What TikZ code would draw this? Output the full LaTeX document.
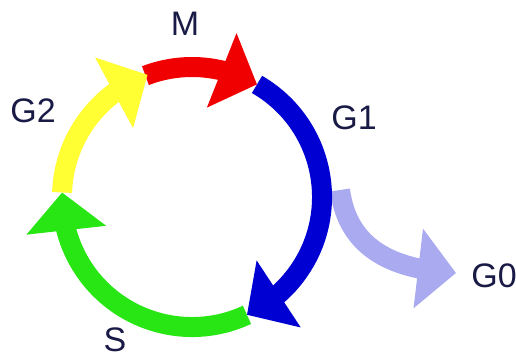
\documentclass[tikz,border=0pt]{standalone}
\usepackage{fontspec}
\setmainfont{Liberation Sans}
\usetikzlibrary{arrows.meta,bending}

\definecolor{phaseM}{RGB}{240,0,0}
\definecolor{phaseGone}{RGB}{0,0,210}
\definecolor{phaseS}{RGB}{40,230,20}
\definecolor{phaseGtwo}{RGB}{255,255,51}
\definecolor{phaseGzero}{RGB}{170,170,240}
\definecolor{labelnavy}{RGB}{26,26,70}

\begin{document}
\begin{tikzpicture}[x=1pt,y=1pt,
  phase/.style={line width=20pt, -{Triangle[length=38pt,width=78pt,flex]}},
  lbl/.style={text=labelnavy, font=\fontsize{34}{38}\selectfont, inner sep=0pt}]
\useasboundingbox (0,0) rectangle (516,360);

\coordinate (c) at (192,163);
\coordinate (q0) at (340,170);
\coordinate (q1) at (456,87);

\draw[phase, phaseGzero] (q0) .. controls (348,110) and (395,90) .. (q1);

\draw[phase, phaseM] (c) ++(111:130) arc[start angle=111, end angle=60, radius=130];
\draw[phase, phaseGone] (c) ++(60:130) arc[start angle=60, end angle=-65, radius=130];
\draw[phase, phaseS] (c) ++(-65:130) arc[start angle=-65, end angle=-182, radius=130];
\draw[phase, phaseGtwo] (c) ++(178:130) arc[start angle=178, end angle=110, radius=130];

\node[lbl] (m) at (185,336) {M};
\node[lbl] (g1) at (354,242) {G1};
\node[lbl] (g2) at (33,249) {G2};
\node[lbl] (s) at (115,20) {S};
\node[lbl] (g0) at (494,84) {G0};

\end{tikzpicture}
\end{document}
